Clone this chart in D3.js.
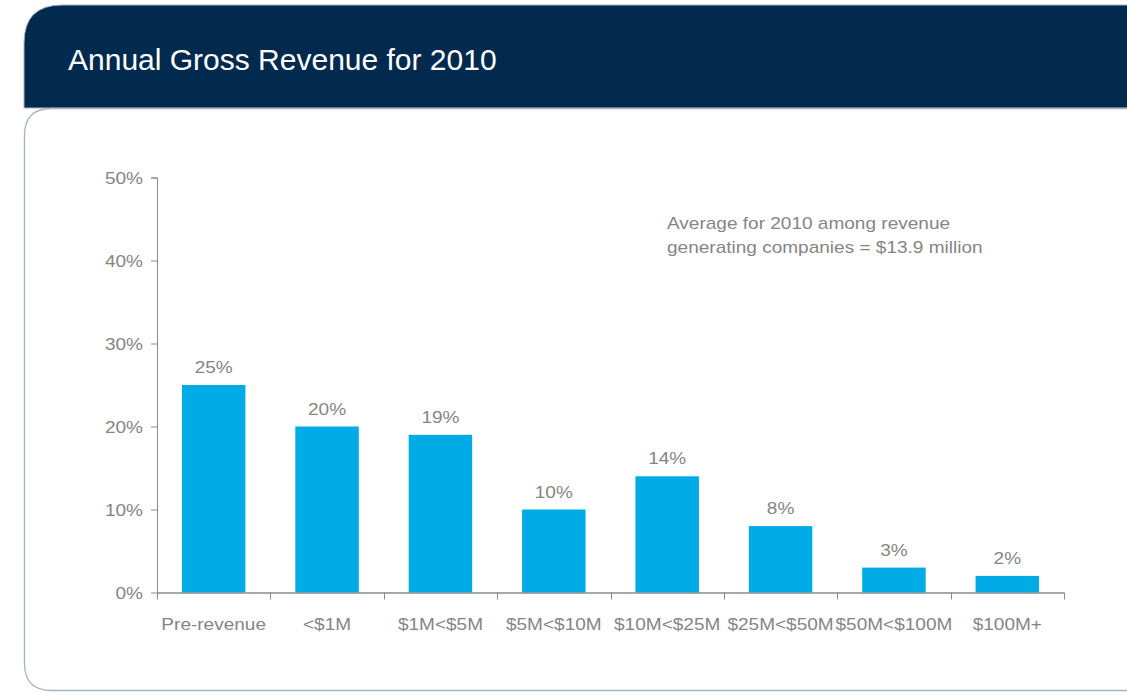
<!DOCTYPE html>
<html>
<head>
<meta charset="utf-8">
<script src="https://cdn.jsdelivr.net/npm/d3@7"></script>
<style>
  html, body { margin: 0; padding: 0; background: #ffffff; }
  svg { display: block; }
  text { font-family: "Liberation Sans", Arial, Helvetica, sans-serif; }
</style>
</head>
<body>
<svg id="chart" width="1127" height="692"></svg>
<script>
// Revenue bands and share of companies in each (percent)
const categories = ["Pre-revenue", "<$1M", "$1M<$5M", "$5M<$10M", "$10M<$25M", "$25M<$50M", "$50M<$100M", "$100M+"];
const shares = [25, 20, 19, 10, 14, 8, 3, 2];
const yTicks = [0, 10, 20, 30, 40, 50];
const title = "Annual Gross Revenue for 2010";
const noteLines = ["Average for 2010 among revenue", "generating companies = $13.9 million"];

const svg = d3.select("#chart");
const W = 1127, H = 692;

const navy = "#022a4f";
const edge = "#a7b3bf";
const barColor = "#00abe6";
const textGray = "#858585";
const axisGray = "#8a8a8a";
const fs = 17;      // body text size
const sx = 1.12;    // slightly wide set for the chart text

// Header banner with rounded top-left corner
const hx = 24, hy = 5, hb = 108, hr = 38;
svg.append("path")
  .attr("d", `M${hx},${hb} L${hx},${hy + hr} Q${hx},${hy} ${hx + hr},${hy} L${W + 10},${hy} L${W + 10},${hb} Z`)
  .attr("fill", navy)
  .attr("stroke", edge)
  .attr("stroke-width", 1);

// White content panel with rounded left corners
const px = 24.5, py = 108.5, pb = 690.5, pr = 27;
svg.append("path")
  .attr("d", `M${W + 10},${py} L${px + pr},${py} Q${px},${py} ${px},${py + pr} L${px},${pb - pr} Q${px},${pb} ${px + pr},${pb} L${W + 10},${pb}`)
  .attr("fill", "#ffffff")
  .attr("stroke", edge)
  .attr("stroke-width", 1.3);

svg.append("text")
  .attr("x", 68).attr("y", 70)
  .attr("fill", "#ffffff")
  .attr("font-size", 30)
  .text(title);

// Plot area
const x0 = 157, x1 = 1064, y0 = 592.5, y1 = 177.5;

const x = d3.scaleBand().domain(categories).range([x0, x1]).paddingInner(0).paddingOuter(0);
const y = d3.scaleLinear().domain([0, 50]).range([y0, y1]);
const barW = x.bandwidth() * 0.56;

const g = svg.append("g");

// Y axis
const yAxis = d3.axisLeft(y).tickValues(yTicks).tickFormat(d => d + "%").tickSize(6);
const yg = g.append("g").attr("transform", `translate(${x0},0)`).call(yAxis);
yg.select(".domain").attr("stroke", axisGray).attr("d", `M-6,${y1 + 0.5}H0.5V${y0}`);
yg.selectAll(".tick line").attr("stroke", axisGray).attr("x1", 0.5).attr("x2", -6);
yg.selectAll(".tick text")
  .attr("fill", textGray)
  .attr("font-size", fs)
  .attr("x", -14 / sx)
  .attr("dy", "0.36em")
  .attr("transform", `scale(${sx},1)`)
  .attr("font-family", "'Liberation Sans', Arial, sans-serif");

// X axis: labels centred in each band, ticks on band boundaries
const xAxis = d3.axisBottom(x).tickSize(0).tickPadding(25);
const xg = g.append("g").attr("transform", `translate(0,${y0})`).call(xAxis);
xg.select(".domain").attr("stroke", axisGray).attr("d", `M${x0},0.5H${x1}`);
xg.selectAll(".tick text")
  .attr("fill", textGray)
  .attr("font-size", fs)
  .attr("transform", `scale(${sx},1)`)
  .attr("font-family", "'Liberation Sans', Arial, sans-serif");

const boundaries = categories.map(c => x(c)).concat([x1]);
g.append("g").selectAll("line")
  .data(boundaries)
  .join("line")
  .attr("x1", d => Math.round(d) + 0.5).attr("x2", d => Math.round(d) + 0.5)
  .attr("y1", y0).attr("y2", y0 + 7)
  .attr("stroke", axisGray);

// Bars
g.append("g").selectAll("rect")
  .data(categories)
  .join("rect")
  .attr("x", (c) => x(c) + (x.bandwidth() - barW) / 2)
  .attr("width", barW)
  .attr("y", (c, i) => y(shares[i]))
  .attr("height", (c, i) => y0 - y(shares[i]))
  .attr("fill", barColor);

// Value labels
g.append("g").selectAll("g")
  .data(categories)
  .join("g")
  .attr("transform", (c, i) => `translate(${x(c) + x.bandwidth() / 2},${y(shares[i]) - 12})`)
  .append("text")
  .attr("transform", `scale(${sx},1)`)
  .attr("text-anchor", "middle")
  .attr("fill", textGray)
  .attr("font-size", fs)
  .text((c, i) => shares[i] + "%");

// Annotation
svg.append("g").selectAll("g")
  .data(noteLines)
  .join("g")
  .attr("transform", (d, i) => `translate(667,${229 + i * 23.5})`)
  .append("text")
  .attr("transform", `scale(${sx},1)`)
  .attr("fill", textGray)
  .attr("font-size", fs)
  .text(d => d);

// Baseline drawn over the bars' bottom edge
g.append("line")
  .attr("x1", x0).attr("x2", x1)
  .attr("y1", y0 + 0.5).attr("y2", y0 + 0.5)
  .attr("stroke", axisGray);
</script>
</body>
</html>
